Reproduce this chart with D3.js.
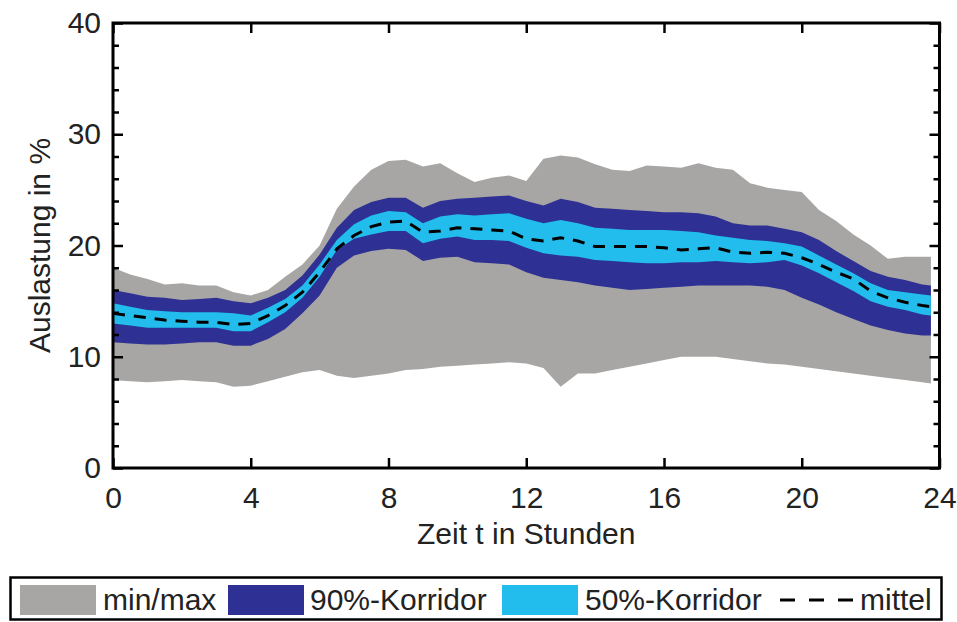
<!DOCTYPE html>
<html>
<head>
<meta charset="utf-8">
<script src="https://cdn.jsdelivr.net/npm/d3@7"></script>
<style>
  html, body { margin: 0; padding: 0; background: #fff; }
  svg { display: block; font-family: "Liberation Sans", Arial, sans-serif; }
</style>
</head>
<body>
<svg id="chart" width="957" height="622"></svg>
<script>
// Hour of day for each sample
const hours = [0,0.5,1,1.5,2,2.5,3,3.5,4,4.5,5,5.5,6,6.5,7,7.5,8,8.5,9,9.5,10,10.5,11,11.5,
  12,12.5,13,13.5,14,14.5,15,15.5,16,16.5,17,17.5,18,18.5,19,19.5,20,20.5,21,21.5,22,22.5,23,23.5,23.75];

// Utilisation in % (min/max envelope, 90 % and 50 % corridors, mean)
const maxVals = [18.0,17.4,17.0,16.5,16.6,16.4,16.4,15.8,15.5,16.0,17.2,18.3,20.0,23.3,25.3,26.8,27.6,27.7,27.1,27.4,26.5,25.7,26.1,26.3,
  25.8,27.8,28.1,27.9,27.3,26.8,26.7,27.2,27.1,27.0,27.4,27.0,26.8,25.6,25.2,25.0,24.8,23.2,22.2,21.0,20.0,18.8,19.0,19.0,19.0];
const p95Vals = [16.0,15.7,15.4,15.3,15.1,15.2,15.3,15.0,14.8,15.3,16.0,17.3,19.2,21.6,23.2,23.9,24.3,24.3,23.4,24.0,24.2,24.3,24.4,24.5,
  24.0,23.6,24.2,23.9,23.4,23.3,23.2,23.1,23.0,23.0,22.9,22.6,22.0,21.8,21.8,21.5,21.2,20.5,19.5,18.6,17.7,17.2,16.9,16.5,16.4];
const p75Vals = [14.8,14.5,14.2,14.1,14.0,14.0,14.0,13.9,13.7,14.4,15.2,16.4,18.3,20.5,21.9,22.7,23.1,23.0,22.0,22.6,22.8,22.7,22.8,22.9,
  22.4,22.0,22.3,22.0,21.6,21.5,21.4,21.4,21.4,21.3,21.2,20.9,20.7,20.5,20.4,20.2,19.9,19.1,18.3,17.5,16.6,16.0,15.8,15.6,15.5];
const meanVals = [13.9,13.7,13.5,13.3,13.2,13.1,13.1,12.9,13.0,13.7,14.6,15.8,17.6,19.7,20.9,21.7,22.1,22.2,21.2,21.3,21.6,21.5,21.4,21.3,
  20.6,20.4,20.7,20.4,19.9,19.9,19.9,19.9,19.8,19.6,19.7,19.8,19.4,19.3,19.4,19.3,18.9,18.3,17.6,17.0,15.9,15.3,14.9,14.6,14.5];
const p25Vals = [13.0,12.8,12.6,12.6,12.6,12.6,12.6,12.3,12.3,13.1,14.0,15.3,17.2,19.6,20.6,21.0,21.3,21.3,20.2,20.6,20.8,20.5,20.5,20.4,
  19.8,19.3,19.1,19.0,18.7,18.6,18.5,18.4,18.4,18.5,18.5,18.6,18.5,18.4,18.5,18.7,18.2,17.5,16.7,15.9,15.0,14.5,14.2,13.8,13.7];
const p5Vals = [11.3,11.2,11.1,11.1,11.2,11.3,11.3,11.0,11.0,11.6,12.5,13.9,15.5,18.0,19.1,19.5,19.7,19.6,18.6,18.9,19.0,18.5,18.4,18.3,
  17.6,17.1,16.9,16.7,16.4,16.2,16.0,16.1,16.2,16.3,16.4,16.4,16.4,16.4,16.3,16.0,15.3,14.7,14.0,13.4,12.8,12.4,12.1,11.9,11.9];
const minVals = [7.9,7.8,7.7,7.8,7.9,7.8,7.7,7.3,7.4,7.8,8.2,8.6,8.8,8.3,8.1,8.3,8.5,8.8,8.9,9.1,9.2,9.3,9.4,9.5,
  9.4,9.0,7.3,8.5,8.5,8.8,9.1,9.4,9.7,10.0,10.0,10.0,9.8,9.6,9.4,9.3,9.1,8.9,8.7,8.5,8.3,8.1,7.9,7.7,7.6];

// Axis ticks
const xTicks = [0,4,8,12,16,20,24];
const yTicks = [0,10,20,30,40];
const yMinorTicks = [2,4,6,8,12,14,16,18,22,24,26,28,32,34,36,38];

// Legend entries
const legendLabels = ["min/max", "90%-Korridor", "50%-Korridor", "mittel"];

const colGrey = "#a8a6a5";
const colBlue = "#2e3193";
const colCyan = "#22bdec";

const svg = d3.select("#chart");
const plotLeft = 113, plotRight = 939.5, plotTop = 23, plotBottom = 468;

const x = d3.scaleLinear().domain([0, 24]).range([plotLeft, plotRight]);
const y = d3.scaleLinear().domain([0, 40]).range([plotBottom, plotTop]);

const rows = hours.map((h, i) => ({
  h, max: maxVals[i], p95: p95Vals[i], p75: p75Vals[i], mean: meanVals[i],
  p25: p25Vals[i], p5: p5Vals[i], min: minVals[i]
}));

const band = (lo, hi) => d3.area().x(d => x(d.h)).y0(d => y(d[lo])).y1(d => y(d[hi]));

const plot = svg.append("g");
plot.append("path").datum(rows).attr("d", band("min", "max")).attr("fill", colGrey);
plot.append("path").datum(rows).attr("d", band("p5", "p95")).attr("fill", colBlue);
plot.append("path").datum(rows).attr("d", band("p25", "p75")).attr("fill", colCyan);
plot.append("path").datum(rows)
  .attr("d", d3.line().x(d => x(d.h)).y(d => y(d.mean)))
  .attr("fill", "none").attr("stroke", "#000").attr("stroke-width", 3)
  .attr("stroke-dasharray", "12,9");

// Axes: ticks point inward on all four sides
const fontSize = 30;
function styleAxis(g) {
  g.select(".domain").remove();
  g.selectAll(".tick line").attr("stroke", "#000").attr("stroke-width", 2.5);
  g.selectAll(".tick text").attr("fill", "#222").style("font-size", fontSize + "px")
    .style("font-family", "'Liberation Sans', Arial, sans-serif");
}

svg.append("g").attr("transform", `translate(0,${plotBottom})`)
  .call(d3.axisBottom(x).tickValues(xTicks).tickSize(-10).tickPadding(19).tickFormat(d3.format("d")))
  .call(styleAxis);
svg.append("g").attr("transform", `translate(0,${plotTop})`)
  .call(d3.axisTop(x).tickValues(xTicks).tickSize(-10).tickFormat(""))
  .call(styleAxis);
svg.append("g").attr("transform", `translate(${plotLeft},0)`)
  .call(d3.axisLeft(y).tickValues(yTicks).tickSize(-10).tickPadding(12).tickFormat(d3.format("d")))
  .call(styleAxis);
svg.append("g").attr("transform", `translate(${plotLeft},0)`)
  .call(d3.axisLeft(y).tickValues(yMinorTicks).tickSize(-6).tickFormat(""))
  .call(styleAxis);
svg.append("g").attr("transform", `translate(${plotRight},0)`)
  .call(d3.axisRight(y).tickValues(yTicks).tickSize(-10).tickFormat(""))
  .call(styleAxis);
svg.append("g").attr("transform", `translate(${plotRight},0)`)
  .call(d3.axisRight(y).tickValues(yMinorTicks).tickSize(-6).tickFormat(""))
  .call(styleAxis);

// Plot frame
svg.append("rect")
  .attr("x", plotLeft).attr("y", plotTop)
  .attr("width", plotRight - plotLeft).attr("height", plotBottom - plotTop)
  .attr("fill", "none").attr("stroke", "#000").attr("stroke-width", 3);

// Axis titles
svg.append("text")
  .attr("x", (plotLeft + plotRight) / 2).attr("y", 544)
  .attr("text-anchor", "middle").attr("fill", "#222")
  .style("font-size", fontSize + "px")
  .text("Zeit t in Stunden");
svg.append("text")
  .attr("transform", `translate(50,${(plotTop + plotBottom) / 2}) rotate(-90)`)
  .attr("text-anchor", "middle").attr("fill", "#222")
  .style("font-size", fontSize + "px")
  .text("Auslastung in %");

// Legend
const legend = svg.append("g");
legend.append("rect")
  .attr("x", 10.5).attr("y", 577.5).attr("width", 931).attr("height", 42)
  .attr("fill", "#fff").attr("stroke", "#000").attr("stroke-width", 2.5);

const swatches = [
  { x: 20, fill: colGrey, tx: 103 },
  { x: 228, fill: colBlue, tx: 310 },
  { x: 502, fill: colCyan, tx: 585 }
];
swatches.forEach((s, i) => {
  legend.append("rect").attr("x", s.x).attr("y", 585).attr("width", 76).attr("height", 30).attr("fill", s.fill);
  legend.append("text").attr("x", s.tx).attr("y", 610).attr("fill", "#222")
    .style("font-size", fontSize + "px").text(legendLabels[i]);
});
legend.append("line")
  .attr("x1", 780).attr("x2", 853).attr("y1", 600).attr("y2", 600)
  .attr("stroke", "#000").attr("stroke-width", 3).attr("stroke-dasharray", "15,14");
legend.append("text").attr("x", 860).attr("y", 610).attr("fill", "#222")
  .style("font-size", fontSize + "px").text(legendLabels[3]);
</script>
</body>
</html>
